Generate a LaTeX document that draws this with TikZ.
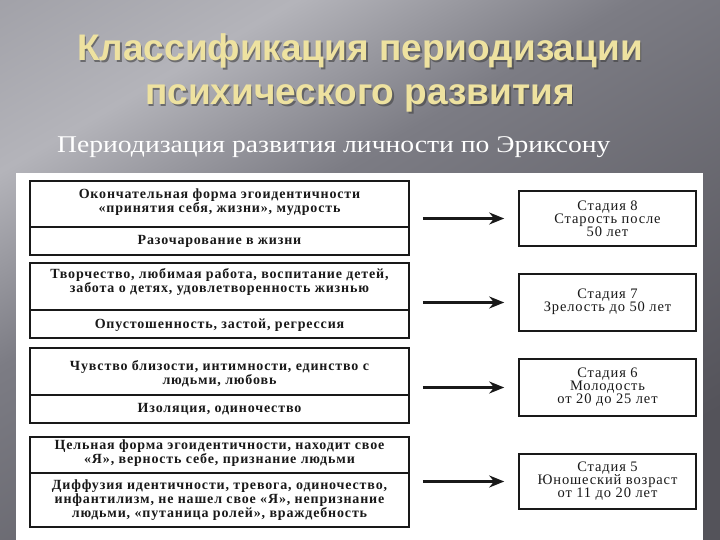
\documentclass[tikz,border=0pt]{standalone}
\usepackage{fontspec}
\setmainfont{Liberation Serif}
\newfontfamily\titlefont{Liberation Sans}
\newfontfamily\subfont[FakeStretch=1.15]{Liberation Serif}
\newfontfamily\boxfont[LetterSpace=6]{Liberation Serif}
\usetikzlibrary{arrows.meta}
\definecolor{bgA}{RGB}{138,138,146}
\definecolor{bgB}{RGB}{180,180,186}
\definecolor{bgC}{RGB}{124,124,132}
\definecolor{bgD}{RGB}{84,83,90}
\definecolor{titlecol}{RGB}{238,226,160}
\definecolor{inkcol}{RGB}{25,25,25}
\pgfdeclarehorizontalshading{slidebg}{100bp}{color(0bp)=(bgA); color(28bp)=(bgB); color(42bp)=(bgC); color(75bp)=(bgD); color(100bp)=(bgD)}
\tikzset{
  frame/.style={draw=inkcol, line width=1.6pt, minimum width=379pt, inner sep=0pt},
  stagebox/.style={draw=inkcol, line width=1.6pt, minimum width=177pt, inner sep=0pt},
  ltext/.style={text=inkcol, font=\boxfont\bfseries\fontsize{14}{12.5}\selectfont, align=center, inner sep=0pt},
  stext/.style={text=inkcol, font=\boxfont\fontsize{14.5}{13}\selectfont, align=center, inner sep=0pt},
  divider/.style={draw=inkcol, line width=1.6pt},
  arr/.style={draw=inkcol, line width=2.4pt, -{Stealth[length=15pt,width=12pt]}, shorten <=13pt, shorten >=14pt},
  ttl/.style={text=titlecol, font=\titlefont\bfseries\fontsize{37}{40}\selectfont, anchor=base, inner sep=0pt},
  ttlshadow/.style={text=black!75, opacity=0.6, font=\titlefont\bfseries\fontsize{37}{40}\selectfont, anchor=base, inner sep=0pt}
}
\begin{document}
\begin{tikzpicture}[x=1pt,y=-1pt]
\useasboundingbox (0,0) rectangle (720,540);
% background
\shade[shading=slidebg, shading angle=-60] (0,0) rectangle (720,540);
\fill[white] (16,173) rectangle (703,540);
% title
\node[ttlshadow] at (361.5,62.5) {Классификация периодизации};
\node[ttlshadow] at (361.5,106.5) {психического развития};
\node[ttl] (t1) at (360,61) {Классификация периодизации};
\node[ttl] (t2) at (360,105) {психического развития};
\node[text=white, font=\subfont\fontsize{24}{26}\selectfont, anchor=base west, inner sep=0pt] (sub) at (57,153) {Периодизация развития личности по Эриксону};
% left frames
\node[frame, minimum height=74pt] (L8) at (219.5,218) {};
\draw[divider] (L8.west |- 0,227) -- (L8.east |- 0,227);
\node[ltext] (L8a) at (219.5,202.5) {Окончательная форма эгоидентичности\\«принятия себя, жизни», мудрость};
\node[ltext] (L8b) at (219.5,241) {Разочарование в жизни};

\node[frame, minimum height=75pt] (L7) at (219.5,300.5) {};
\draw[divider] (L7.west |- 0,310) -- (L7.east |- 0,310);
\node[ltext] (L7a) at (219.5,282) {Творчество, любимая работа, воспитание детей,\\забота о детях, удовлетворенность жизнью};
\node[ltext] (L7b) at (219.5,325) {Опустошенность, застой, регрессия};

\node[frame, minimum height=75pt] (L6) at (219.5,385.5) {};
\draw[divider] (L6.west |- 0,395) -- (L6.east |- 0,395);
\node[ltext] (L6a) at (219.5,374) {Чувство близости, интимности, единство с\\людьми, любовь};
\node[ltext] (L6b) at (219.5,409.5) {Изоляция, одиночество};

\node[frame, minimum height=90pt] (L5) at (219.5,482) {};
\draw[divider] (L5.west |- 0,473) -- (L5.east |- 0,473);
\node[ltext] (L5a) at (219.5,453.5) {Цельная форма эгоидентичности, находит свое\\«Я», верность себе, признание людьми};
\node[ltext] (L5b) at (219.5,500) {Диффузия идентичности, тревога, одиночество,\\инфантилизм, не нашел свое «Я», непризнание\\людьми, «путаница ролей», враждебность};
% stage boxes
\node[stagebox, minimum height=55pt] (S8) at (607.5,218.5) {};
\node[stext] at (S8) {Стадия 8\\Старость после\\50 лет};
\node[stagebox, minimum height=57pt] (S7) at (607.5,302.5) {};
\node[stext] at (607.5,301.5) {Стадия 7\\Зрелость до 50 лет};
\node[stagebox, minimum height=57pt] (S6) at (607.5,387.5) {};
\node[stext] at (S6) {Стадия 6\\Молодость\\от 20 до 25 лет};
\node[stagebox, minimum height=55pt] (S5) at (607.5,481.5) {};
\node[stext] at (S5) {Стадия 5\\Юношеский возраст\\от 11 до 20 лет};
% arrows
\draw[arr] (L8.east |- S8.west) -- (S8.west);
\draw[arr] (L7.east |- S7.west) -- (S7.west);
\draw[arr] (L6.east |- S6.west) -- (S6.west);
\draw[arr] (L5.east |- S5.west) -- (S5.west);
\end{tikzpicture}
\end{document}
